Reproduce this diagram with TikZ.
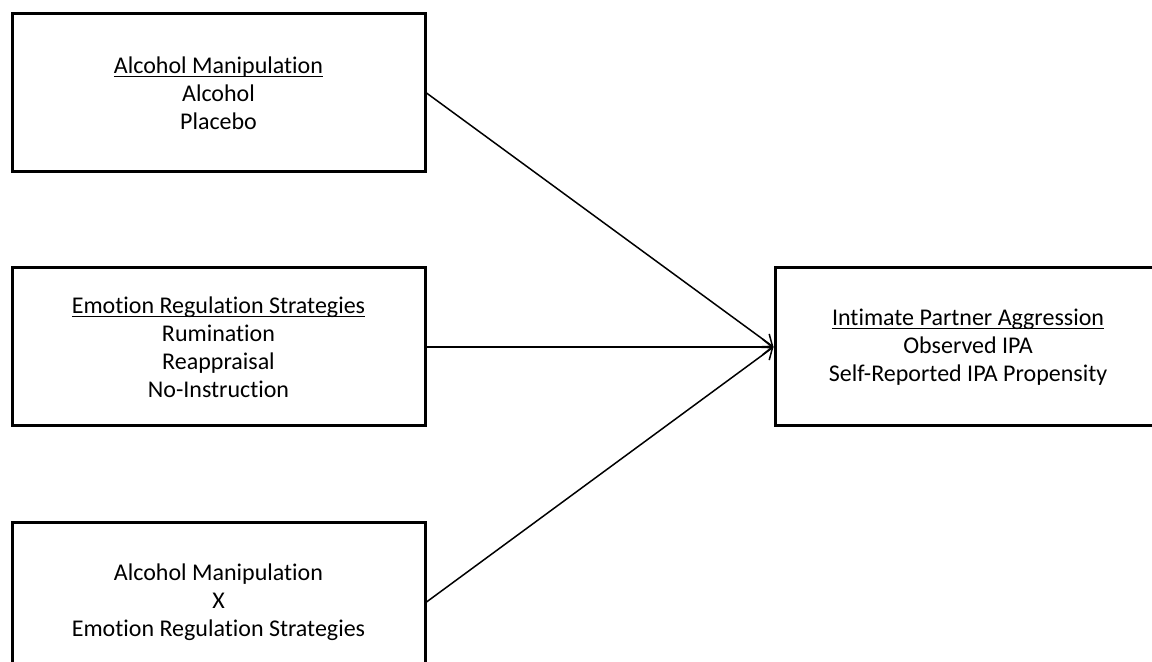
\documentclass[tikz,border=0pt]{standalone}
\usepackage{amsmath}
\usepackage{fontspec}
\setmainfont[Ligatures=NoCommon,RawFeature=-liga]{Carlito}
\usetikzlibrary{arrows.meta}
\newcommand{\hdr}[1]{\underline{\smash[b]{#1}}}

\begin{document}
\begin{tikzpicture}[x=0.5pt,y=-0.5pt,
    varbox/.style={draw, line width=1.5pt, minimum width=206.5pt, minimum height=79pt,
                   align=center, font=\fontsize{12}{14}\selectfont},
    link/.style={-{Straight Barb[length=5pt,width=8pt]}, line width=0.75pt}]
                \useasboundingbox (0,0) rectangle (1152,662);
                % predictors
                \node[varbox] (alc) at (218.5,93) {\hdr{Alcohol Manipulation}\\Alcohol\\Placebo};
                \node[varbox] (emo) at (218.5,347) {\hdr{Emotion Regulation Strategies}\\Rumination\\Reappraisal\\No-Instruction};
                \node[varbox] (inter) at (218.5,602) {Alcohol Manipulation\\X\\Emotion Regulation Strategies};
                % outcome
                \node[varbox, minimum width=193pt] (ipa) at (968,347) {\hdr{Intimate Partner Aggression}\\Observed IPA\\Self-Reported IPA Propensity};
                \draw[link] (alc.east) -- (ipa.west);
                \draw[link] (emo.east) -- (ipa.west);
                \draw[link] (inter.east) -- (ipa.west);
            \end{tikzpicture}
\end{document}
